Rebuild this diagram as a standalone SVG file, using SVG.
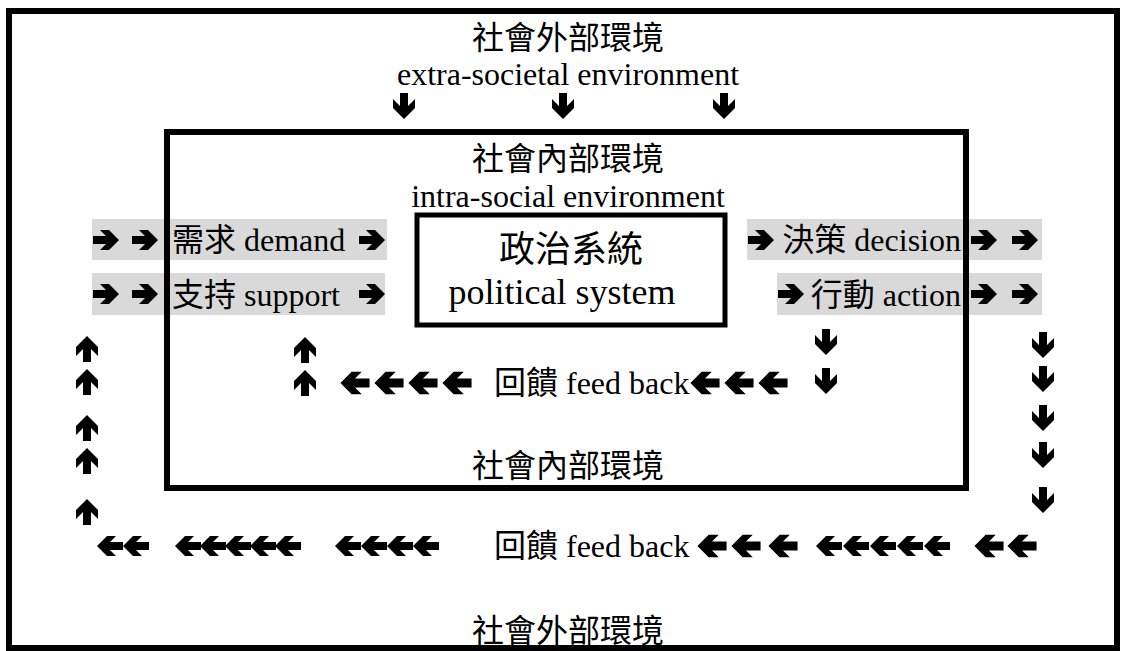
<svg xmlns="http://www.w3.org/2000/svg" xmlns:xlink="http://www.w3.org/1999/xlink" width="1122" height="651" viewBox="0 0 1122 651">
<style>
.box{fill:none;stroke:#000}
.band{fill:#d9d9d9}
.t{font-family:"Liberation Serif","Noto Sans CJK TC",serif;font-size:32px;fill:#000}
.c{font-family:"Noto Sans CJK TC","Noto Sans CJK SC",sans-serif;font-size:32px;fill:#000}
.big{font-size:36px}
.a{fill:#000}
</style>
<defs>
<path id="ar" d="M-13,-4 H0 L-6,-10 H3 L13,0 L3,10 H-6 L0,4 H-13 Z"/>
<path id="al" d="M13,-4 H0 L6,-10 H-3 L-13,0 L-3,10 H6 L0,4 H13 Z"/>
<path id="au" d="M-4,13 V0 L-11,7 V-2 L0,-13 L11,-2 V7 L4,0 V13 Z"/>
<path id="ad" d="M-4,-13 V0 L-11,-7 V2 L0,13 L11,2 V-7 L4,0 V-13 Z"/>
</defs>
<rect width="1122" height="651" fill="#fff"/>

<g id="bands">
<rect class="band" x="92" y="219" width="295" height="41"/>
<rect class="band" x="92" y="273" width="293" height="42"/>
<rect class="band" x="747" y="219" width="295" height="41"/>
<rect class="band" x="777" y="273" width="265" height="42"/>
</g>

<g id="extra-societal">
<rect class="box" x="9" y="11" width="1108" height="637" stroke-width="6"/>
<text class="c" x="568" y="49" text-anchor="middle">社會外部環境</text>
<text class="t" x="568" y="85" text-anchor="middle">extra-societal environment</text>
<text class="c" x="568" y="642" text-anchor="middle">社會外部環境</text>
</g>

<g id="intra-social">
<rect class="box" x="167" y="132" width="799" height="356" stroke-width="6"/>
<text class="c" x="568" y="170" text-anchor="middle">社會內部環境</text>
<text class="t" x="568" y="207" text-anchor="middle">intra-social environment</text>
<text class="c" x="568" y="477" text-anchor="middle">社會內部環境</text>
</g>

<g id="political-system">
<rect class="box" x="417" y="215" width="308" height="110" stroke-width="5"/>
<text class="c big" x="571" y="262" text-anchor="middle">政治系統</text>
<text class="t big" x="562" y="304" text-anchor="middle">political system</text>
</g>

<g id="demand">
<text class="t" x="172" y="251">需求 demand</text>
</g>
<g id="support">
<text class="t" x="172" y="306">支持 support</text>
</g>
<g id="decision">
<text class="t" x="961" y="251" text-anchor="end">決策 decision</text>
</g>
<g id="action">
<text class="t" x="961" y="306" text-anchor="end">行動 action</text>
</g>
<g id="feedback-inner">
<text class="t" x="494" y="394">回饋 feed back</text>
</g>
<g id="feedback-outer">
<text class="t" x="494" y="557">回饋 feed back</text>
</g>

<g id="connectors" class="a">
<!-- top inputs -->
<use xlink:href="#ad" x="404" y="106"/>
<use xlink:href="#ad" x="563" y="106"/>
<use xlink:href="#ad" x="724" y="106"/>
<!-- demand row -->
<use xlink:href="#ar" x="106" y="240"/>
<use xlink:href="#ar" x="145" y="240"/>
<use xlink:href="#ar" x="372" y="240"/>
<!-- support row -->
<use xlink:href="#ar" x="106" y="294"/>
<use xlink:href="#ar" x="145" y="294"/>
<use xlink:href="#ar" x="372" y="294"/>
<!-- decision row -->
<use xlink:href="#ar" x="761" y="240"/>
<use xlink:href="#ar" x="984" y="240"/>
<use xlink:href="#ar" x="1025" y="240"/>
<!-- action row -->
<use xlink:href="#ar" x="791" y="294"/>
<use xlink:href="#ar" x="984" y="294"/>
<use xlink:href="#ar" x="1025" y="294"/>
<!-- inner feedback -->
<use xlink:href="#ad" x="826" y="342"/>
<use xlink:href="#ad" x="826" y="381"/>
<use xlink:href="#al" transform="translate(705,383) scale(1.12)"/>
<use xlink:href="#al" transform="translate(739,383) scale(1.12)"/>
<use xlink:href="#al" transform="translate(773,383) scale(1.12)"/>
<use xlink:href="#al" transform="translate(355,383) scale(1.12)"/>
<use xlink:href="#al" transform="translate(389,383) scale(1.12)"/>
<use xlink:href="#al" transform="translate(423,383) scale(1.12)"/>
<use xlink:href="#al" transform="translate(457,383) scale(1.12)"/>
<use xlink:href="#au" x="305" y="350"/>
<use xlink:href="#au" x="305" y="383"/>
<!-- outer feedback: right column down -->
<use xlink:href="#ad" x="1043" y="345"/>
<use xlink:href="#ad" x="1043" y="379"/>
<use xlink:href="#ad" x="1043" y="418"/>
<use xlink:href="#ad" x="1043" y="455"/>
<use xlink:href="#ad" x="1043" y="500"/>
<!-- bottom row left arrows -->
<use xlink:href="#al" transform="translate(989,546) scale(1.12)"/>
<use xlink:href="#al" transform="translate(1022,546) scale(1.12)"/>
<use xlink:href="#al" x="829" y="546"/>
<use xlink:href="#al" x="856" y="546"/>
<use xlink:href="#al" x="883" y="546"/>
<use xlink:href="#al" x="910" y="546"/>
<use xlink:href="#al" x="937" y="546"/>
<use xlink:href="#al" transform="translate(712,546) scale(1.12)"/>
<use xlink:href="#al" transform="translate(746,546) scale(1.12)"/>
<use xlink:href="#al" transform="translate(783,546) scale(1.12)"/>
<use xlink:href="#al" x="348" y="546"/>
<use xlink:href="#al" x="374" y="546"/>
<use xlink:href="#al" x="400" y="546"/>
<use xlink:href="#al" x="426" y="546"/>
<use xlink:href="#al" x="188" y="546"/>
<use xlink:href="#al" x="213" y="546"/>
<use xlink:href="#al" x="238" y="546"/>
<use xlink:href="#al" x="263" y="546"/>
<use xlink:href="#al" x="288" y="546"/>
<use xlink:href="#al" x="110" y="546"/>
<use xlink:href="#al" x="136" y="546"/>
<!-- left column up -->
<use xlink:href="#au" x="87" y="512"/>
<use xlink:href="#au" x="87" y="461"/>
<use xlink:href="#au" x="87" y="428"/>
<use xlink:href="#au" x="87" y="382"/>
<use xlink:href="#au" x="87" y="349"/>
</g>
</svg>
